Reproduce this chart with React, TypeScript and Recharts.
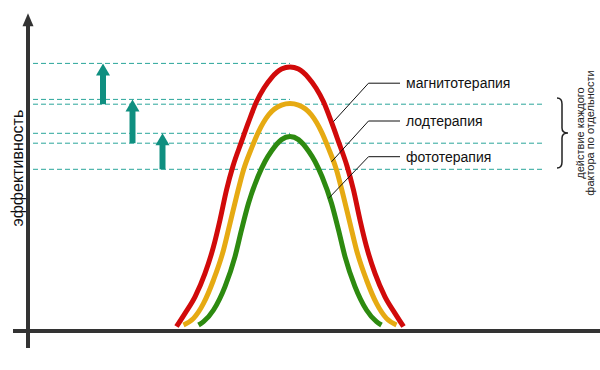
import {
  Line,
  XAxis,
  YAxis,
  ReferenceDot,
  ReferenceLine,
  ComposedChart,
} from "recharts";

// x = time, y = effectiveness (baseline 0)
const magnetoX = [29.7, 31.4, 33.4, 35.4, 37.1, 38.4, 39.7, 41.0, 42.7, 44.1, 45.7, 47.2, 48.7, 50.7, 52.4, 54.1, 56.1, 57.6, 59.1, 60.7, 62.1, 63.8, 65.1, 66.4, 67.7, 69.4, 71.4, 73.4, 75.1];
const magnetoY = [1.5, 5.9, 11.4, 19.2, 28.1, 37, 47, 55, 63.1, 69.6, 76.4, 81, 84.4, 87.3, 88, 87.3, 84.4, 81, 76.4, 69.6, 63.1, 55, 47, 37, 28.1, 19.2, 11.4, 5.9, 1.5];

const lodX = [31.1, 33.1, 35.1, 37.1, 39.1, 40.4, 41.7, 43.1, 44.7, 46.1, 48.1, 50.7, 52.4, 54.1, 56.7, 58.7, 60.1, 61.7, 63.1, 64.4, 65.7, 67.7, 69.7, 71.7, 73.7];
const lodY = [2, 4.2, 9.2, 17, 27, 35.9, 44.8, 53.7, 60.9, 66.4, 72, 75.3, 75.8, 75.3, 72, 66.4, 60.9, 53.7, 44.8, 35.9, 27, 17, 9.2, 4.2, 2];

const photoX = [34.1, 35.1, 37.1, 39.4, 41.4, 42.7, 44.1, 46.0, 47.4, 48.7, 50.7, 52.4, 54.1, 56.1, 57.4, 58.8, 60.7, 62.1, 63.4, 65.4, 67.7, 69.7, 70.7];
const photoY = [2, 3.1, 7, 14.8, 24.8, 33.7, 42.6, 51.5, 56.5, 60, 63.8, 64.8, 63.8, 60, 56.5, 51.5, 42.6, 33.7, 24.8, 14.8, 7, 3.1, 2];

const seriesNames = ["магнитотерапия", "лодтерапия", "фототерапия"];
const seriesColors = ["#d10a0a", "#e6aa12", "#2d8a10"];

// combined effect (curve tops) and single-factor levels
const combinedLevels = [89.2, 77.2, 65.9];
const singleLevels = [75.6, 62.6, 53.9];
const arrowX = [15, 20.9, 26.9];

// label leaders: point on curve -> elbow -> text
const leaderTouchX = [61.1, 60.7, 60.1];
const leaderTouchY = [69.8, 56.4, 44.2];
const leaderY = [82.6, 70, 58.1];
const leaderElbowX = 68.1;
const leaderEndX = 74.4;

const yTitle = "эффективность";
const braceNote = ["действие каждого", "фактора по отдельности"];

const toPoints = (xs: number[], ys: number[]) =>
  xs.map((x, i) => ({ x, y: ys[i] }));

const curves = [
  toPoints(magnetoX, magnetoY),
  toPoints(lodX, lodY),
  toPoints(photoX, photoY),
];

const FONT = '"Liberation Sans", Arial, sans-serif';
const TEAL = "#0f8f80";
const DASH = "#2aa59a";

const axisArrow = (p: any) => {
  const head = 13;
  return (
    <g>
      <line x1={p.x1} y1={p.y1} x2={p.x2} y2={p.y2 + head - 1} stroke="#333" strokeWidth={4} />
      <polygon
        points={`${p.x2},${p.y2} ${p.x2 - 5.5},${p.y2 + head} ${p.x2 + 5.5},${p.y2 + head}`}
        fill="#333"
      />
    </g>
  );
};

const tealArrow = (p: any) => {
  const head = 12;
  return (
    <g>
      <line x1={p.x1} y1={p.y1} x2={p.x2} y2={p.y2 + head - 1} stroke={TEAL} strokeWidth={6} />
      <polygon
        points={`${p.x2},${p.y2} ${p.x2 - 7},${p.y2 + head} ${p.x2 + 7},${p.y2 + head}`}
        fill={TEAL}
      />
    </g>
  );
};

const leaderShape = (name: string) => (p: any) => (
  <g>
    <line x1={p.x1} y1={p.y1} x2={p.x2} y2={p.y2} stroke="#111" strokeWidth={1} />
    <text x={p.x2 + 6} y={p.y2} dy={5} fontSize={14} fill="#111" fontFamily={FONT}>
      {name}
    </text>
  </g>
);

const braceShape = (p: any) => {
  const x = p.x1;
  const t = p.y1;
  const b = p.y2;
  const m = (t + b) / 2;
  const d = `M${x},${t} Q${x + 5},${t} ${x + 5},${t + 6} L${x + 5},${m - 5} Q${x + 5},${m} ${x + 11},${m} Q${x + 5},${m} ${x + 5},${m + 5} L${x + 5},${b - 6} Q${x + 5},${b} ${x},${b}`;
  return (
    <g>
      <path d={d} fill="none" stroke="#222" strokeWidth={1.5} />
      {braceNote.map((s, i) => (
        <text
          key={s}
          x={x + 23 + i * 10}
          y={m}
          transform={`rotate(-90 ${x + 23 + i * 10} ${m})`}
          textAnchor="middle"
          dominantBaseline="central"
          fontSize={11}
          fill="#222"
          fontFamily={FONT}
        >
          {s}
        </text>
      ))}
    </g>
  );
};

const yTitleShape = (p: any) => (
  <text
    x={p.cx - 10}
    y={p.cy}
    transform={`rotate(-90 ${p.cx - 10} ${p.cy})`}
    textAnchor="middle"
    dominantBaseline="central"
    fontSize={16}
    fill="#111"
    fontFamily={FONT}
  >
    {yTitle}
  </text>
);

export default function App() {
  return (
    <div style={{ position: "fixed", left: 0, top: 0, width: 600, height: 370, background: "#fff" }}>
      <ComposedChart
        width={600}
        height={370}
        margin={{ top: 31, right: 22, bottom: 39, left: 28 }}
      >
        <XAxis type="number" dataKey="x" domain={[0, 110]} hide allowDataOverflow />
        <YAxis type="number" dataKey="y" domain={[0, 100]} hide allowDataOverflow />

        {combinedLevels.map((v) => (
          <ReferenceLine
            key={`c${v}`}
            segment={[{ x: 1, y: v }, { x: 52.4, y: v }]}
            stroke={DASH}
            strokeDasharray="5 3"
            ifOverflow="visible"
          />
        ))}
        {singleLevels.map((v) => (
          <ReferenceLine
            key={`s${v}`}
            segment={[{ x: 1, y: v }, { x: 103, y: v }]}
            stroke={DASH}
            strokeDasharray="5 3"
            ifOverflow="visible"
          />
        ))}

        {arrowX.map((x, i) => (
          <ReferenceLine
            key={`a${x}`}
            segment={[{ x, y: singleLevels[i] }, { x, y: combinedLevels[i] }]}
            shape={tealArrow}
            ifOverflow="visible"
          />
        ))}

        {/* axes */}
        <ReferenceLine
          segment={[{ x: -3, y: 0 }, { x: 114.4, y: 0 }]}
          stroke="#333"
          strokeWidth={4}
          ifOverflow="visible"
        />
        <ReferenceLine
          segment={[{ x: 0, y: -5.7 }, { x: 0, y: 105.9 }]}
          shape={axisArrow}
          ifOverflow="visible"
        />
        <ReferenceDot x={0} y={54.3} r={0} shape={yTitleShape} ifOverflow="visible" />

        {curves.map((pts, i) => (
          <Line
            key={seriesNames[i]}
            data={pts}
            dataKey="y"
            type="monotone"
            stroke={seriesColors[i]}
            strokeWidth={5}
            dot={false}
            activeDot={false}
            isAnimationActive={false}
          />
        ))}

        {seriesNames.map((name, i) => (
          <ReferenceLine
            key={`d${name}`}
            segment={[
              { x: leaderTouchX[i], y: leaderTouchY[i] },
              { x: leaderElbowX, y: leaderY[i] },
            ]}
            stroke="#111"
            strokeWidth={1}
            ifOverflow="visible"
          />
        ))}
        {seriesNames.map((name, i) => (
          <ReferenceLine
            key={`h${name}`}
            segment={[
              { x: leaderElbowX, y: leaderY[i] },
              { x: leaderEndX, y: leaderY[i] },
            ]}
            shape={leaderShape(name)}
            ifOverflow="visible"
          />
        ))}

        <ReferenceLine
          segment={[{ x: 105.8, y: 77.7 }, { x: 105.8, y: 54.3 }]}
          shape={braceShape}
          ifOverflow="visible"
        />
      </ComposedChart>
    </div>
  );
}
